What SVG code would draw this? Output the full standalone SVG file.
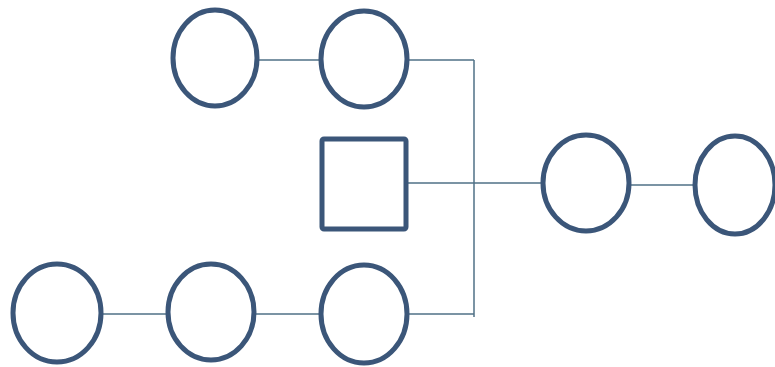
<svg xmlns="http://www.w3.org/2000/svg" width="775" height="367" viewBox="0 0 775 367">
<style>
.n{fill:#ffffff;stroke:#3b5679;stroke-width:5}
.c{fill:none;stroke:#4f7086;stroke-width:1.5}
</style>
<rect width="775" height="367" fill="#ffffff"/>
<g id="connectors">
<line class="c" x1="257" y1="60" x2="321" y2="60"/>
<line class="c" x1="407" y1="60" x2="474" y2="60"/>
<line class="c" x1="474" y1="60" x2="474" y2="317"/>
<line class="c" x1="406" y1="183" x2="543" y2="183"/>
<line class="c" x1="629" y1="185" x2="695" y2="185"/>
<line class="c" x1="101" y1="314" x2="168" y2="314"/>
<line class="c" x1="255" y1="314" x2="320" y2="314"/>
<line class="c" x1="407" y1="314" x2="474" y2="314"/>
</g>
<g id="top1"><ellipse class="n" cx="215" cy="58" rx="42" ry="48"/></g>
<g id="top2"><ellipse class="n" cx="364" cy="59" rx="43" ry="48"/></g>
<g id="square"><rect class="n" x="322" y="139" width="84" height="90" rx="2"/></g>
<g id="right1"><ellipse class="n" cx="586" cy="183" rx="43" ry="48"/></g>
<g id="right2"><ellipse class="n" cx="735" cy="185" rx="40" ry="49"/></g>
<g id="bottom1"><ellipse class="n" cx="57" cy="313" rx="44" ry="49"/></g>
<g id="bottom2"><ellipse class="n" cx="211" cy="312" rx="43" ry="48"/></g>
<g id="bottom3"><ellipse class="n" cx="364" cy="314" rx="43" ry="49"/></g>
</svg>
